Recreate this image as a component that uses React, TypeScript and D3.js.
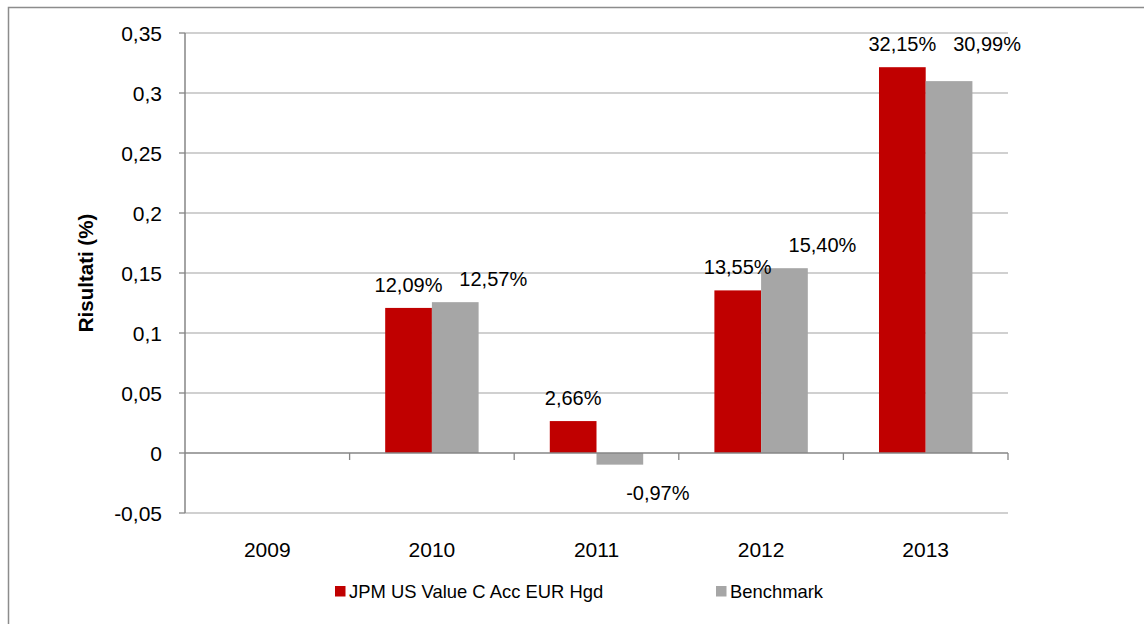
import React from "react";
import * as d3 from "d3";

const years = ["2009", "2010", "2011", "2012", "2013"];
const seriesNames = ["JPM US Value C Acc EUR Hgd", "Benchmark"];
const fundValues: (number | null)[] = [null, 0.1209, 0.0266, 0.1355, 0.3215];
const benchValues: (number | null)[] = [null, 0.1257, -0.0097, 0.154, 0.3099];
const yTicks = [-0.05, 0, 0.05, 0.1, 0.15, 0.2, 0.25, 0.3, 0.35];
const colors = ["#C00000", "#A6A6A6"];

const W = 1144;
const H = 624;
const left = 185;
const right = 1008;
const top = 33;
const bottom = 513;
const FONT = "'Liberation Sans', Arial, sans-serif";

const fmtTick = (v: number) => {
  const s = d3.format("")(+v.toFixed(2));
  return s.replace(".", ",").replace("−", "-");
};
const fmtPct = (v: number) => (v * 100).toFixed(2).replace(".", ",") + "%";

export default function App() {
  const x = d3.scaleBand<string>().domain(years).range([left, right]).padding(0);
  const x1 = d3
    .scaleBand<string>()
    .domain(seriesNames)
    .range([0, x.bandwidth()])
    .paddingInner(0)
    .paddingOuter(0.762);
  const y = d3.scaleLinear().domain([-0.05, 0.35]).range([bottom, top]);
  const y0 = y(0);
  const series = [fundValues, benchValues];

  const boundaries = years.map((yr) => (x(yr) as number) + x.bandwidth());

  return (
    <svg
      width={W}
      height={H}
      style={{ position: "absolute", left: 0, top: 0, background: "#fff" }}
      fontFamily={FONT}
    >
      <rect x={8.5} y={7.5} width={1200} height={700} fill="#fff" stroke="#8c8c8c" strokeWidth={1.5} />
      {/* gridlines */}
      {yTicks.map((t) =>
        t === 0 ? null : (
          <line key={"g" + t} x1={left} x2={right} y1={y(t)} y2={y(t)} stroke="#c0c0c0" strokeWidth={1.3} />
        )
      )}
      {/* bars */}
      {series.map((vals, si) =>
        vals.map((v, i) => {
          if (v === null) return null;
          const bx = (x(years[i]) as number) + (x1(seriesNames[si]) as number);
          const yv = y(v);
          return (
            <rect
              key={"b" + si + "-" + i}
              x={bx}
              y={Math.min(yv, y0)}
              width={x1.bandwidth()}
              height={Math.abs(yv - y0)}
              fill={colors[si]}
            />
          );
        })
      )}
      {/* y axis */}
      <line x1={left} x2={left} y1={top} y2={bottom} stroke="#868686" strokeWidth={1.5} />
      {yTicks.map((t) => (
        <g key={"t" + t}>
          <line x1={left - 6} x2={left} y1={y(t)} y2={y(t)} stroke="#868686" strokeWidth={1.3} />
          <text x={162} y={y(t) + 8} textAnchor="end" fontSize={21} fill="#000">
            {fmtTick(t)}
          </text>
        </g>
      ))}
      {/* zero axis */}
      <line x1={left} x2={right} y1={y0} y2={y0} stroke="#868686" strokeWidth={1.5} />
      {boundaries.map((b, i) => (
        <line key={"xt" + i} x1={b} x2={b} y1={y0} y2={y0 + 7} stroke="#868686" strokeWidth={1.3} />
      ))}
      {years.map((yr) => (
        <text
          key={"xl" + yr}
          x={(x(yr) as number) + x.bandwidth() / 2}
          y={557}
          textAnchor="middle"
          fontSize={21}
          fill="#000"
        >
          {yr}
        </text>
      ))}
      {/* data labels */}
      {years.map((yr, i) => {
        const f = fundValues[i];
        const b = benchValues[i];
        if (f === null || b === null) return null;
        const fx = (x(yr) as number) + (x1(seriesNames[0]) as number) + x1.bandwidth() / 2;
        const bxc = (x(yr) as number) + (x1(seriesNames[1]) as number) + x1.bandwidth() / 2 + 38;
        const fy = y(f) - 16;
        const by = b >= 0 ? Math.min(y(b), y(f)) - 16 : y(b) + 35;
        return (
          <g key={"dl" + yr} fontSize={20} fill="#000">
            <text x={fx} y={fy} textAnchor="middle">
              {fmtPct(f)}
            </text>
            <text x={bxc} y={by} textAnchor="middle">
              {fmtPct(b)}
            </text>
          </g>
        );
      })}
      {/* y title */}
      <text
        transform={`translate(93,273) rotate(-90)`}
        textAnchor="middle"
        fontSize={20.5}
        fontWeight="bold"
        fill="#000"
      >
        Risultati (%)
      </text>
      {/* legend */}
      {seriesNames.map((s, i) => {
        const lx = i === 0 ? 335 : 716;
        return (
          <g key={"lg" + i}>
            <rect x={lx} y={586} width={10.5} height={10.5} fill={colors[i]} />
            <text x={lx + 14} y={598} fontSize={18.4} fill="#000">
              {s}
            </text>
          </g>
        );
      })}
    </svg>
  );
}
